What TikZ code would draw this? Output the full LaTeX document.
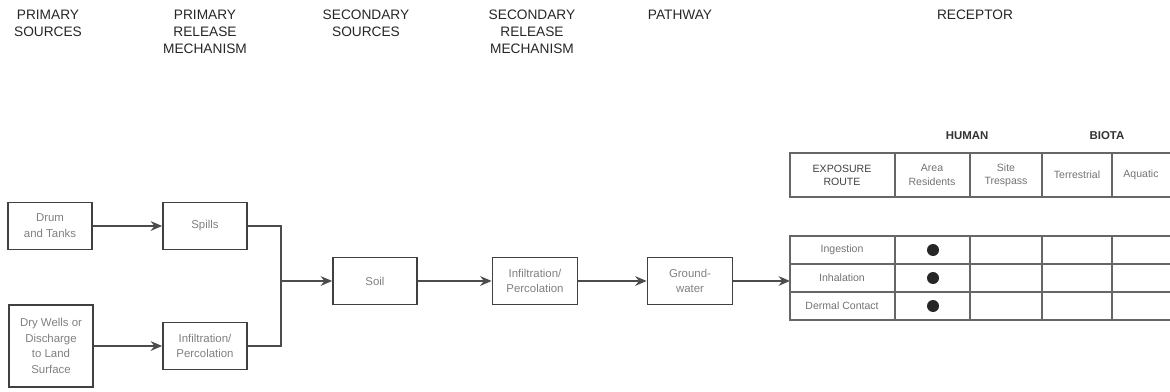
\documentclass[tikz,border=0pt]{standalone}
\usepackage{fontspec}
\setmainfont{Liberation Sans}
\usetikzlibrary{arrows.meta}

\tikzset{
  stage/.style={font=\fontsize{7.8}{9.6}\selectfont, text=black!85, align=center, anchor=north, inner sep=0pt},
  box/.style={draw=black!75, line width=1pt, minimum width=1.68cm, minimum height=0.94cm, align=center, inner sep=1pt, font=\fontsize{6.5}{9}\selectfont, text=black!50},
  link/.style={draw=black!70, line width=0.9pt},
  flow/.style={link, -{Stealth[length=6.5pt,width=5.5pt]}},
  cell/.style={font=\fontsize{6}{7.5}\selectfont, text=black!55, align=center, inner sep=0pt},
  gridline/.style={draw=black!60, line width=0.6pt},
}

\begin{document}
\begin{tikzpicture}[x=0.02cm,y=-0.02cm]
  \useasboundingbox (0,0) rectangle (1170,392);

  % Column headings
  \node[stage] (psrc) at (48,10) {PRIMARY\\SOURCES};
  \node[stage] (prel) at (205,10) {PRIMARY\\RELEASE\\MECHANISM};
  \node[stage] (ssrc) at (366,10) {SECONDARY\\SOURCES};
  \node[stage] (srel) at (532,10) {SECONDARY\\RELEASE\\MECHANISM};
  \node[stage] (path) at (680,10) {PATHWAY};
  \node[stage] (recp) at (975,10) {RECEPTOR};

  % Sources and release mechanisms
  \node[box] (drum) at (50,226) {Drum\\and Tanks};
  \node[box, minimum height=1.64cm] (dry) at (51,346) {Dry Wells or\\Discharge\\to Land\\Surface};
  \node[box] (spills) at (205,226) {Spills};
  \node[box] (infil) at (205,346) {Infiltration/\\Percolation};
  \node[box] (soil) at (375,281) {Soil};
  \node[box, minimum width=1.7cm] (perc) at (535,281) {Infiltration/\\Percolation};
  \node[box, minimum width=1.7cm] (gw) at (690,281) {Ground-\\water};

  % Flow between the boxes
  \coordinate (jn) at (281,281);
  \coordinate (tab) at (790,281);
  \draw[flow] (drum) -- (spills);
  \draw[flow] (dry) -- (infil);
  \draw[link] (spills.east) -| (jn);
  \draw[link] (infil.east) -| (jn);
  \draw[flow] (jn) -- (soil);
  \draw[flow] (soil) -- (perc);
  \draw[flow] (perc) -- (gw);
  \draw[flow] (gw) -- (tab);

  % Receptor groups
  \node[font=\bfseries\fontsize{6.5}{8}\selectfont, text=black!80] (human) at (967,136) {HUMAN};
  \node[font=\bfseries\fontsize{6.5}{8}\selectfont, text=black!80] (biota) at (1107,136) {BIOTA};

  % Table heading row
  \draw[gridline, line width=1pt] (1170,153) -- (790,153) -- (790,197) -- (1170,197);
  \foreach \x in {895,970,1042,1112}
    \draw[gridline] (\x,153) -- (\x,197);
  \node[cell, text=black!75] (route) at (842,175) {EXPOSURE\\ROUTE};
  \node[cell] (resid) at (932,175) {Area\\Residents};
  \node[cell] (tresp) at (1006,175) {Site\\Trespass};
  \node[cell] (terr) at (1077,175) {Terrestrial};
  \node[cell] (aqua) at (1141,175) {Aquatic};

  % Table body
  \draw[gridline, line width=1pt] (1170,236) -- (790,236) -- (790,320) -- (1170,320);
  \foreach \y in {264,292}
    \draw[gridline] (790,\y) -- (1170,\y);
  \foreach \x in {895,970,1042,1112}
    \draw[gridline] (\x,236) -- (\x,320);
  \node[cell] (ingest) at (842,250) {Ingestion};
  \node[cell] (inhal) at (842,278) {Inhalation};
  \node[cell] (dermal) at (842,306) {Dermal Contact};

  % Exposure marks
  \foreach \y in {250,278,306}
    \fill[black!85] (933,\y) circle[radius=0.12cm];
\end{tikzpicture}
\end{document}
